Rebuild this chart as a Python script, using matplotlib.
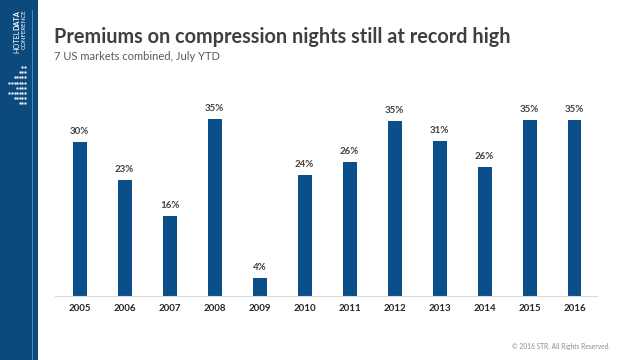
import matplotlib.pyplot as plt
from matplotlib.patches import Rectangle
from matplotlib.lines import Line2D

years = ['2005', '2006', '2007', '2008', '2009', '2010',
         '2011', '2012', '2013', '2014', '2015', '2016']
premium = [30.4, 23.0, 15.8, 35.0, 3.6, 24.0, 26.5, 34.6, 30.7, 25.6, 34.9, 34.9]
labels = ['30%', '23%', '16%', '35%', '4%', '24%',
          '26%', '35%', '31%', '26%', '35%', '35%']

bar_color = '#0b4f8a'
side_color = '#0c4a7e'
plt.rcParams['font.family'] = ['Lato', 'DejaVu Sans']

fig = plt.figure(figsize=(6.4, 3.6), dpi=100)
fig.patch.set_facecolor('white')

# sidebar with logo
fig.add_artist(Rectangle((0, 0), 38 / 640, 1, transform=fig.transFigure,
                         facecolor=side_color, edgecolor='none'))
fig.add_artist(Line2D([32 / 640, 32 / 640], [0, 1 - 10 / 360], transform=fig.transFigure,
                      color='#6f93b5', lw=0.6))
fig.text(16.5 / 640, 1 - 30 / 360, 'HOTEL', rotation=90, color='white', fontsize=5.2,
         ha='center', va='top')
fig.text(16.5 / 640, 1 - 30 / 360, 'DATA', rotation=90, color='white', fontsize=5.2,
         fontweight='bold', ha='center', va='bottom')
fig.text(24 / 640, 1 - 49 / 360, 'CONFERENCE', rotation=90, color='white', fontsize=4.4,
         ha='center', va='bottom')
for i, n in enumerate([2, 3, 5, 7, 4, 7, 5, 3]):
    yy = 1 - (67 + i * 5.2) / 360
    for j in range(n):
        xx = (25 - j * 2.6) / 640
        fig.add_artist(Line2D([xx], [yy], marker='s', ms=0.7, color='#dfe8f1',
                              transform=fig.transFigure, lw=0))

fig.text(54 / 640, 1 - 37 / 360, 'Premiums on compression nights still at record high',
         fontsize=14.3, fontweight='bold', color='#3f3f3f', va='center', ha='left')
fig.text(54 / 640, 1 - 57 / 360, '7 US markets combined, July YTD',
         fontsize=8, color='#595959', va='center', ha='left')
fig.text(610 / 640, 1 - 347 / 360, '\u00a9 2016 STR. All Rights Reserved.',
         fontsize=4.8, color='#8c8c8c', va='center', ha='right')

ax = fig.add_axes([55 / 640, 1 - 296 / 360, 542 / 640, 196 / 360])
x = list(range(len(years)))
ax.bar(x, premium, width=0.31, color=bar_color)
for xi, v, lab in zip(x, premium, labels):
    ax.text(xi, v + 1.2, lab, ha='center', va='bottom', fontsize=7,
            fontweight='bold', color='#404040')
ax.set_xlim(-0.55, 11.5)
ax.set_ylim(0, 38.8)
ax.set_xticks(x)
ax.set_xticklabels(years, fontsize=7, fontweight='bold', color='#262626')
ax.tick_params(axis='x', length=0, pad=6)
ax.set_yticks([])
for s in ['top', 'right', 'left']:
    ax.spines[s].set_visible(False)
ax.spines['bottom'].set_color('#d9d9d9')
ax.spines['bottom'].set_linewidth(0.8)

fig.savefig('out.png', dpi=100)
